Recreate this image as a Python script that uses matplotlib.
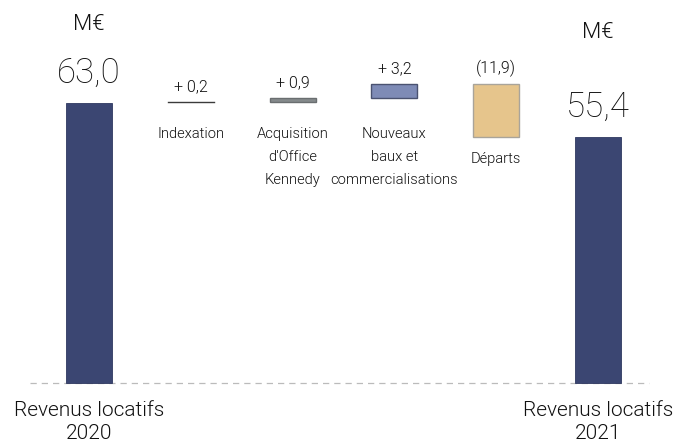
import matplotlib
matplotlib.use("Agg")
import matplotlib.pyplot as plt

categories = ["Revenus locatifs\n2020", "Indexation", "Acquisition\nd'Office\nKennedy",
              "Nouveaux\nbaux et\ncommercialisations", "Départs", "Revenus locatifs\n2021"]
start_value = 63.0
changes = [0.2, 0.9, 3.2, -11.9]
end_value = 55.4
change_labels = ["+ 0,2", "+ 0,9", "+ 3,2", "(11,9)"]
total_labels = ["63,0", "55,4"]
unit = "M€"

fam = ["Roboto", "DejaVu Sans"]
txt = "#111111"

fig = plt.figure(figsize=(6.76, 4.45), dpi=100)
ax = fig.add_axes([0, 0, 1, 1])
ax.set_xlim(-0.874, 5.766)
ax.set_ylim(-13.95, 86.2)
ax.axis("off")

navy = "#3b4672"
w = 0.45
ax.bar(0, start_value, width=w, color=navy, edgecolor="#2f3860", linewidth=0.6, zorder=3)
ax.bar(5, end_value, width=w, color=navy, edgecolor="#2f3860", linewidth=0.6, zorder=3)

face = ["#3b3b3b", "#858a8c", "#7e8bb6", "#e6c58c"]
edge = ["#3b3b3b", "#6a6e70", "#4a5270", "#a9a49a"]
cum = start_value
tops = []
for i, c in enumerate(changes):
    lo, hi = (cum, cum + c) if c >= 0 else (cum + c, cum)
    if i == 0:
        ax.plot([1 - w / 2, 1 + w / 2], [hi, hi], color=face[0], lw=1.0, zorder=3)
    else:
        ax.bar(i + 1, hi - lo, bottom=lo, width=w, color=face[i], edgecolor=edge[i],
               linewidth=1.0, zorder=3)
    tops.append(hi)
    cum += c

ax.plot([-0.58, 5.5], [0, 0], color="#bbbbbb", lw=0.9, ls=(0, (5, 4)), zorder=2)

ax.text(0, 80.6, unit, ha="center", va="center", fontsize=16, family=fam,
        fontweight=300, color=txt)
ax.text(5, 78.8, unit, ha="center", va="center", fontsize=16, family=fam,
        fontweight=300, color=txt)
for x, v, lab in [(0, start_value, total_labels[0]), (5, end_value, total_labels[1])]:
    ax.annotate(lab, (x, v), xytext=(0, 21.5), textcoords="offset points",
                ha="center", va="center", fontsize=25, family=fam, fontweight=100,
                color=txt)
for i, (t, lab) in enumerate(zip(tops, change_labels)):
    ax.annotate(lab, (i + 1, t), xytext=(0, 11), textcoords="offset points",
                ha="center", va="center", fontsize=11.5, family=fam, fontweight=300,
                color=txt)

cat_y = [None, 57.6, 57.6, 57.6, 51.9, None]
for i in range(1, 5):
    ax.text(i, cat_y[i], categories[i], ha="center", va="top", fontsize=10.6,
            family=fam, fontweight=300, linespacing=1.8, color=txt)
ax.text(0, -4.0, categories[0], ha="center", va="top", fontsize=15, family=fam,
        fontweight=300, linespacing=1.25, color=txt)
ax.text(5, -4.0, categories[5], ha="center", va="top", fontsize=15, family=fam,
        fontweight=300, linespacing=1.25, color=txt)

fig.savefig("out.png", dpi=100)
